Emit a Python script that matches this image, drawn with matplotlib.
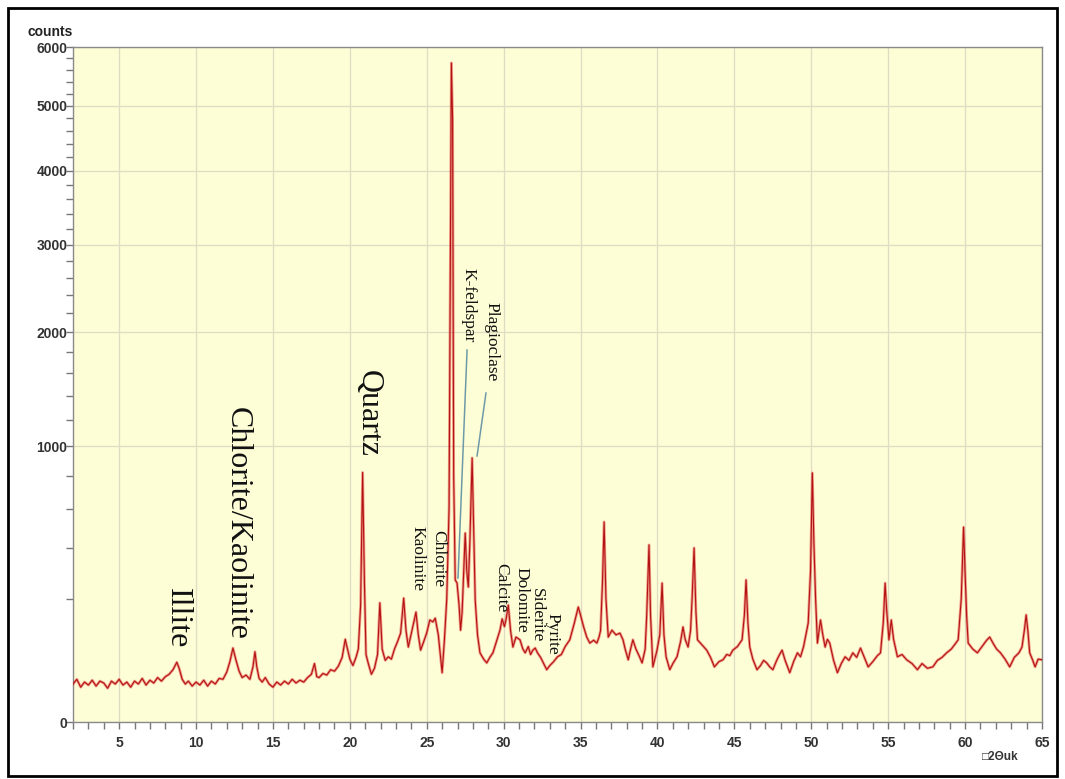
'''
XRD pattern of a clay-bearing sandstone sample (counts vs 2-theta),
with the main mineral reflections labelled.
'''

import numpy as npy
import matplotlib
matplotlib.use('Agg')
import matplotlib.pyplot as plt
from matplotlib.patches import Rectangle

# Scan: 2-theta (deg) and counts
two_theta = [
    2.0, 2.25, 2.5, 2.75, 3.0, 3.25, 3.5, 3.75, 4.0, 4.25, 4.5, 4.75,
    5.0, 5.25, 5.5, 5.75, 6.0, 6.25, 6.5, 6.75, 7.0, 7.25, 7.5, 7.75,
    8.0, 8.25, 8.5, 8.75, 8.9, 9.1, 9.3, 9.5, 9.75, 10.0, 10.25, 10.5, 10.75, 11.0, 11.25, 11.5, 11.75,
    12.0, 12.2, 12.4, 12.6, 12.8, 13.0, 13.25, 13.5, 13.7, 13.83, 13.95, 14.1, 14.3, 14.5, 14.75,
    15.0, 15.25, 15.5, 15.75, 16.0, 16.25, 16.5, 16.75, 17.0, 17.25, 17.5, 17.7, 17.85,
    18.0, 18.25, 18.5, 18.75, 19.0, 19.25, 19.5, 19.7, 19.85, 20.0, 20.2, 20.4, 20.55,
    20.7, 20.83, 20.95, 21.05, 21.2, 21.4, 21.6, 21.8, 21.95, 22.1, 22.3, 22.5, 22.7, 22.9,
    23.1, 23.3, 23.5, 23.65, 23.8, 24.0, 24.15, 24.3, 24.45, 24.6, 24.8, 25.0, 25.2, 25.4, 25.55, 25.75, 25.9, 26.0,
    26.15, 26.3, 26.45, 26.6, 26.68, 26.75, 26.85, 26.97, 27.1, 27.2, 27.3, 27.42, 27.5, 27.6, 27.7, 27.8, 27.95, 28.05, 28.15, 28.3, 28.46, 28.7, 28.9,
    29.1, 29.3, 29.5, 29.76, 29.9, 30.05, 30.15, 30.3, 30.45, 30.6, 30.8, 31.06, 31.25, 31.4, 31.6, 31.75, 31.9,
    32.05, 32.2, 32.4, 32.6, 32.8, 33.0, 33.25, 33.5, 33.75, 34.0, 34.3, 34.6, 34.85, 35.0, 35.2, 35.4, 35.6, 35.85, 36.06, 36.2, 36.3,
    36.42, 36.53, 36.65, 36.8, 37.04, 37.3, 37.56, 37.76, 37.9, 38.1, 38.25, 38.4, 38.6, 38.8, 39.0,
    39.2, 39.3, 39.45, 39.55, 39.7, 39.85, 39.97, 40.15, 40.3, 40.42, 40.56, 40.8, 41.0, 41.27, 41.5, 41.66, 41.8, 41.99,
    42.15, 42.25, 42.38, 42.5, 42.6, 42.85, 43.0, 43.2, 43.45, 43.7, 44.0, 44.26, 44.5, 44.7, 44.9,
    45.2, 45.5, 45.65, 45.76, 45.88, 46.0, 46.2, 46.47, 46.7, 46.9, 47.1, 47.3, 47.5, 47.75, 47.9, 48.1, 48.3, 48.6, 48.85, 49.1, 49.3, 49.5, 49.8,
    49.95, 50.07, 50.17, 50.28, 50.4, 50.6, 50.75, 50.9, 51.05, 51.2, 51.45, 51.7, 51.95, 52.2, 52.45, 52.7, 52.95, 53.2, 53.45, 53.7,
    54.0, 54.3, 54.5, 54.68, 54.8, 54.9, 55.05, 55.2, 55.35, 55.6, 55.9, 56.2, 56.55, 56.9, 57.2, 57.55, 57.9, 58.2, 58.5, 58.8, 59.1, 59.35, 59.55,
    59.75, 59.9, 60.0, 60.1, 60.2, 60.5, 60.8, 61.1, 61.4, 61.6, 61.85, 62.05, 62.3, 62.6, 62.9, 63.2, 63.5, 63.7, 63.85, 63.97, 64.08, 64.2, 64.4, 64.55, 64.75, 65.0,
]
counts = [
    19, 24, 16, 21, 18, 23, 17, 22, 20, 15, 22, 19,
    24, 18, 21, 16, 22, 19, 25, 18, 23, 20, 26, 22,
    27, 30, 36, 47, 38, 24, 19, 22, 17, 21, 18, 23, 17, 22, 19, 25, 24,
    33, 48, 72, 50, 34, 26, 29, 24, 40, 65, 40, 25, 21, 26, 19,
    16, 21, 18, 22, 19, 24, 20, 23, 21, 26, 30, 45, 27,
    26, 31, 29, 36, 34, 41, 55, 90, 70, 52, 42, 55, 70,
    180, 820, 250, 60, 45, 30, 38, 60, 187, 70, 50, 56, 52, 70,
    85, 104, 202, 110, 74, 104, 130, 159, 100, 68, 85, 105, 137, 132, 142, 100, 55, 32,
    90, 200, 600, 5720, 4780, 800, 266, 254, 180, 111, 160, 330, 470, 300, 240, 420, 918, 500, 196, 100, 63, 52, 46,
    55, 63, 82, 111, 140, 120, 137, 180, 110, 74, 95, 89, 70, 63, 75, 60, 68,
    72, 63, 55, 45, 36, 42, 48, 56, 60, 75, 89, 130, 174, 150, 119, 95, 82, 88, 82, 95, 110,
    250, 527, 200, 95, 111, 100, 104, 89, 70, 51, 70, 89, 70, 58, 46,
    70, 150, 413, 150, 40, 55, 68, 100, 254, 100, 56, 36, 45, 56, 85, 119, 90, 74,
    110, 200, 399, 160, 89, 80, 75, 68, 55, 40, 48, 51, 60, 58, 68,
    75, 89, 150, 266, 130, 74, 52, 36, 42, 50, 46, 40, 36, 50, 58, 68, 50, 32, 48, 63, 56, 75, 129,
    300, 817, 422, 200, 82, 137, 100, 74, 90, 82, 50, 32, 45, 56, 50, 63, 55, 72, 55, 40,
    48, 58, 63, 130, 254, 165, 89, 137, 90, 56, 60, 51, 45, 36, 45, 38, 40, 50, 55, 63, 70, 80, 89,
    200, 500, 292, 150, 82, 70, 63, 75, 88, 95, 80, 70, 63, 52, 40, 55, 63, 74, 110, 151, 110, 63, 50, 40, 52, 51,
]

y_ticks = [0, 1000, 2000, 3000, 4000, 5000, 6000]
x_ticks = [5, 10, 15, 20, 25, 30, 35, 40, 45, 50, 55, 60, 65]

# Mineral labels: (text, 2-theta, counts at top of text, font size)
labels = [
    ('Illite', 8.76, 236, 23),
    ('Chlorite/Kaolinite', 12.66, 1307, 23),
    ('Quartz', 21.18, 1632, 23),
    ('Kaolinite', 24.37, 506, 12.5),
    ('Chlorite', 25.73, 485, 12.5),
    ('K-feldspar', 27.68, 2714, 12.5),
    ('Plagioclase', 29.18, 2323, 12.5),
    ('Calcite', 29.83, 333, 12.5),
    ('Dolomite', 31.13, 316, 12.5),
    ('Siderite', 32.17, 236, 12.5),
    ('Pyrite', 33.14, 156, 12.5),
]
# Leader lines from label to peak: (x0, y0, x1, y1)
leaders = [
    (27.62, 1822, 27.03, 273),
    (28.85, 1425, 28.27, 932),
]

fig = plt.figure(figsize=(10.65, 7.79), dpi=100)
ax = fig.add_axes([73 / 1065, 57 / 779, 969 / 1065, 675 / 779])
ax.set_facecolor('#fdfdd6')

ax.set_yscale('function', functions=(lambda v: npy.sqrt(npy.clip(v, 0, None)), lambda v: v ** 2))
ax.set_xlim(2, 65)
ax.set_ylim(0, 6000)

# fuzzy noise band, then the trace itself
ax.plot(two_theta, counts, color='#e23a3a', lw=2.0, alpha=0.5, zorder=3)
ax.plot(two_theta, counts, color='#b31212', lw=0.8, zorder=4)

for x0, y0, x1, y1 in leaders:
    ax.plot([x0, x1], [y0, y1], color='#6e9aa8', lw=1.1, zorder=5)

for text, x, y, size in labels:
    ax.text(x, y, text, rotation=270, ha='center', va='top', fontsize=size,
            family='Liberation Serif', color='#111111', zorder=6)

ax.set_yticks(y_ticks)
ax.set_yticks(npy.arange(0, 6001, 200), minor=True)
ax.set_xticks(x_ticks)
ax.set_xticks(npy.arange(2, 66, 1), minor=True)
ax.grid(True, which='major', color='#dedcc2', lw=0.9, zorder=0)
ax.set_axisbelow(True)

ax.tick_params(axis='both', which='both', direction='out', color='#777777', width=1)
ax.tick_params(axis='y', which='major', length=5, pad=-1)
ax.tick_params(axis='y', which='minor', length=5)
ax.tick_params(axis='x', which='both', length=5, pad=5)
for lab in ax.get_xticklabels() + ax.get_yticklabels():
    lab.set_family('Liberation Sans')
    lab.set_fontweight('bold')
    lab.set_fontsize(10)
    lab.set_color('#333333')
for s in ax.spines.values():
    s.set_color('#8a8a8a')
    s.set_linewidth(1)

fig.text(73 / 1065, 1 - 32 / 779, 'counts', ha='right', va='center', fontsize=10,
         fontweight='bold', family='Liberation Sans', color='#222222')
fig.text(1000 / 1065, 1 - 757 / 779, '\u25a12\u0398uk', ha='center', va='center', fontsize=8.5,
         fontweight='bold', family=['Liberation Sans', 'DejaVu Sans'], color='#333333')

# black frame around the whole picture
fig.patches.append(Rectangle((8 / 1065, 3 / 779), 1049 / 1065, 768 / 779, transform=fig.transFigure,
                             fill=False, edgecolor='black', lw=2))

fig.savefig('out.png', dpi=100)
